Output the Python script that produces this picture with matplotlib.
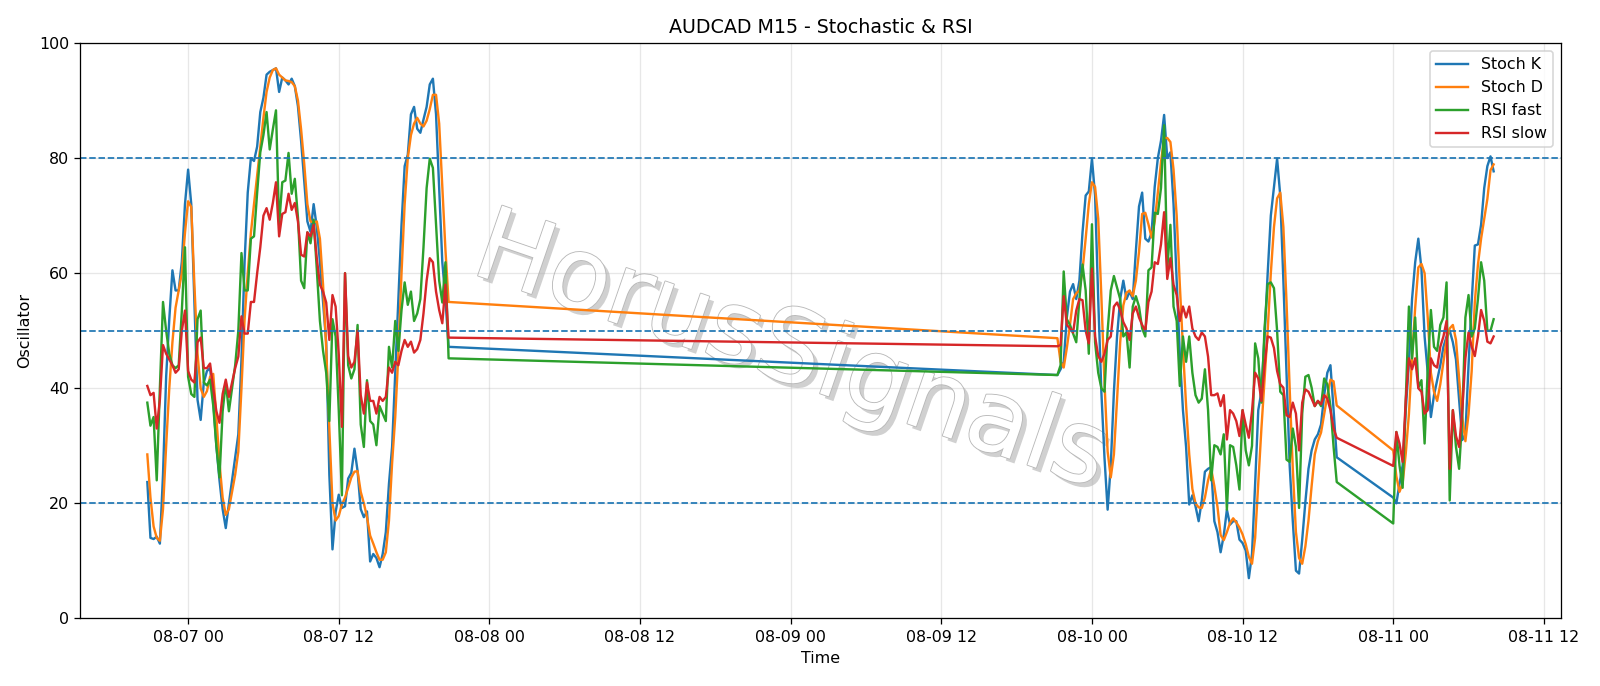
import matplotlib
matplotlib.use("Agg")
import matplotlib.pyplot as plt
import matplotlib.dates as mdates
import matplotlib.patheffects as pe
import numpy as np
import pandas as pd

# three trading stretches of M15 bars (Fri session, Sun-Mon session, after data hole)
seg_starts = ["2020-08-06 20:45", "2020-08-09 21:15", "2020-08-11 00:00"]
seg_lengths = [97, 90, 33]

stoch_k = [
    # segment 1
    23.7, 14, 13.8, 14.2, 13, 25, 42, 52, 60.5, 57, 57, 62, 72, 78, 72, 55, 38, 34.5, 41, 43,
    43.5, 38, 30, 24, 19, 15.7, 20, 24, 28, 32, 45, 62, 74, 80, 79.5, 82, 88, 90.5, 94.5, 95,
    95.3, 95.6, 91.5, 94, 93.5, 92.8, 93.8, 92.5, 89, 83, 76, 69, 67.2, 72, 68, 62, 55, 48, 25, 12,
    18.5, 21.5, 19.2, 19.5, 24.3, 25.3, 29.5, 25.6, 19, 17.6, 18.6, 9.9, 11.2, 10.5, 8.9, 11.2, 15, 23.4, 29.8, 42.7,
    55.5, 68.4, 78.6, 80.6, 87.6, 88.9, 85.1, 84.4, 86.7, 88.9, 92.8, 93.8, 87.6, 74.8, 61.9, 55.5, 47.2,
    # segment 2
    42.3, 43.3, 44.6, 52.3, 56.8, 58.1, 55.5, 58.7, 67.1, 73.5, 74.2, 79.9, 73.5, 55.5, 39.4, 27.9, 18.9, 26.6, 39.4, 49,
    55.5, 58.7, 55.5, 56.8, 55.5, 63.9, 71.6, 74, 66, 65.5, 67, 75, 80, 83, 87.5, 80, 81, 72, 58.7, 45.9,
    36.2, 29.8, 19.8, 21.4, 19.5, 16.9, 20.5, 25.5, 26, 26.3, 16.9, 15, 11.5, 14.4, 18.9, 16.3, 16.9, 16.9, 13.7, 13.1,
    11.8, 7, 11.2, 23.4, 36.2, 39.4, 49, 60, 70, 75, 79.9, 73.5, 58.7, 42.7, 26.6, 16.9, 8.3, 7.8, 13.7, 20.2,
    26, 29.2, 31.1, 32, 33.7, 38.8, 42.7, 44, 36.2, 28,
    # segment 3
    21, 20, 23.4, 26.6, 36.2, 44.6, 55.5, 61.9, 66, 60.7, 49, 42.7, 35, 38.8, 41.4, 44, 47.2, 49, 50, 48,
    45, 38, 31, 32, 44, 55, 64.8, 65, 68.4, 74.8, 78.6, 80.3, 77.7,
]

stoch_d = [
    28.5, 21, 16, 14, 13.5, 19, 30, 40, 48, 54, 57, 60, 67, 72.5, 71.5, 58, 46, 40, 38.5, 39.5,
    42, 42.5, 35, 27, 21, 18, 19, 22, 25, 29, 40, 52, 60, 67, 72, 77, 82, 87, 91.5, 94,
    95.3, 95.6, 94.5, 94, 93.5, 93.4, 93.2, 92.5, 90, 85, 79, 72, 69, 68.8, 69, 66, 58, 47, 33, 20,
    17, 17.8, 19.8, 21, 22.7, 24.5, 25.5, 25.6, 22, 20, 17.6, 14.4, 13, 11.5, 10.2, 10.2, 11.5, 17, 27, 35,
    46, 60, 72, 80, 84, 86, 87, 86, 85.5, 86.5, 88.5, 91, 91, 86, 75, 64, 55,
    48.7, 44.6, 43.6, 47, 51, 55.5, 56.5, 57, 60.5, 66, 72, 75.8, 75, 69.5, 56, 41, 29, 24.5, 28.5, 38,
    48, 54.4, 56.6, 57, 56, 58.7, 63.7, 70.3, 70.5, 68.5, 66.2, 69, 74, 79.3, 83.5, 83.5, 82.8, 78, 70, 58,
    47, 37, 28.5, 22.5, 20, 19.3, 19.2, 21, 24, 26, 23, 19.4, 14.5, 13.6, 15, 16.6, 17.4, 16.7, 15.8, 14.6,
    12.9, 10.7, 9.5, 14, 23.6, 33, 41.5, 50, 60, 68, 73, 74, 68, 55, 40, 26, 15, 10.5, 9.5, 12.5,
    17, 23, 28.5, 30.8, 32.3, 35.5, 38.7, 41.5, 41.2, 37,
    29.2, 24.7, 22, 23.5, 28.7, 35.5, 45.4, 54, 61, 61.6, 60, 52.3, 42.7, 39.4, 37.8, 40.7, 44.6, 48.4, 50.4, 51,
    48.4, 41.7, 35, 30.8, 35.5, 43, 55, 61.5, 66, 69.4, 72.9, 77.9, 78.9,
]

rsi_fast = [
    37.5, 33.5, 35, 24, 40, 55, 50, 46, 44, 43.5, 44, 53.5, 64.5, 42, 39, 38.5, 52, 53.5, 41, 40.5,
    41.5, 37, 30, 24.5, 36, 41, 36, 40, 44, 50, 63.5, 57, 57, 66, 66.4, 74, 81, 84, 88, 81.5,
    85, 88.3, 68.4, 75.8, 76.1, 80.9, 73.8, 76.4, 69.7, 58.7, 57.4, 67.1, 65.2, 69.3, 60.7, 51.7, 46.5, 42.7, 34.3, 52,
    49, 36.2, 21.4, 60, 44, 41.7, 43.3, 51, 33.7, 29.8, 41.4, 34.3, 33.7, 30.1, 36.9, 35.6, 34.3, 47.2, 43.6, 51.7,
    46.5, 53.6, 58.4, 54.5, 56.8, 51.7, 53, 55.5, 64.5, 74.8, 79.9, 78.3, 68.4, 58.7, 54.9, 61.9, 45.2,
    42.3, 44, 60.3, 52, 51, 49.5, 48, 55.5, 61.5, 57, 46, 68.5, 48, 42.7, 40, 39.4, 50, 57, 59.5, 57.5,
    55.5, 49, 49.7, 43.6, 54.2, 56, 54.2, 50.4, 49, 60.5, 61, 70.5, 70.3, 74.8, 85.7, 60.7, 68.4, 54.2, 51.7, 40.4,
    49, 44.6, 49, 42.7, 38.8, 37.5, 38.2, 43.3, 36.2, 24, 30.1, 29.8, 28.5, 32, 18.9, 30.1, 29.8, 26.6, 22.4, 36.2,
    29.2, 26.6, 30, 47.8, 45.2, 37.5, 50.4, 58.1, 58.4, 57.4, 50, 39.4, 38.8, 27.6, 27.2, 33, 29.8, 19.2, 35.6, 42,
    42.3, 40.1, 36.9, 37.8, 36.9, 41.7, 40.7, 36.9, 29.8, 23.7,
    16.5, 32.4, 26.6, 22.7, 38, 54.2, 45.2, 52.3, 40.1, 41.4, 30.4, 43.3, 53.6, 47.2, 46.5, 51, 52.3, 58.4, 20.5, 36.2,
    29.8, 26, 34.9, 52.3, 56.2, 49, 50.4, 55.5, 61.9, 58.7, 50, 50, 52,
]

rsi_slow = [
    40.4, 38.8, 39.2, 33, 38, 47.5, 46, 45, 44, 42.7, 43.3, 50, 53.5, 43, 41.5, 41, 48, 48.8, 43.5, 43.5,
    44.3, 40, 36, 34, 39, 41.5, 38.5, 41, 43.5, 45.5, 52.5, 49.5, 49.5, 55, 55, 60, 64.5, 70, 71.3, 69.3,
    72.2, 75.8, 66.4, 70.3, 70.6, 73.8, 71, 72.2, 69, 63.2, 62.9, 67.1, 66.4, 68.4, 62.6, 58, 56.8, 54.9, 48.4, 56.2,
    54.2, 45.9, 33.3, 60, 45.6, 43.6, 44.6, 50, 38.8, 35.6, 41, 37.8, 37.8, 35.6, 38.5, 37.8, 38.5, 43.6, 42.7, 44.6,
    44, 46.5, 48.4, 47.2, 48.1, 46.2, 46.8, 48.4, 53, 58.7, 62.6, 61.9, 56.8, 53.6, 51.3, 58, 48.8,
    47.3, 47.5, 56, 51, 50.4, 49.7, 53.5, 55.5, 55.3, 50, 47.8, 60.8, 49, 45.6, 44.6, 46, 48.4, 49, 54.2, 54.9,
    53.6, 51.5, 50.4, 48.4, 53, 54.2, 52.3, 51, 50, 55, 56.8, 61.9, 61.6, 65, 70.6, 59, 62.6, 58, 56.2, 51.7,
    54.2, 52.3, 54.2, 50.4, 49, 48.4, 49.7, 49, 45.5, 38.8, 38.8, 39.1, 36.9, 38.8, 31.1, 36.2, 35.6, 34.3, 31.7, 36.2,
    33.7, 31.4, 36, 42.7, 41.7, 37.8, 43.9, 49, 48.8, 47, 43, 40.7, 40.1, 35.3, 35, 37.5, 35.6, 29.2, 37.5, 39.8,
    39.4, 38.2, 36.9, 37.8, 37.2, 38.8, 38.2, 36.2, 33, 31.4,
    26.5, 32.4, 30.4, 27.2, 38, 45.2, 43.3, 45.2, 40, 39.4, 35.6, 36.2, 45.2, 44, 43.6, 47.2, 49, 51.7, 26, 36.2,
    31.7, 29.8, 36.2, 45.2, 49.7, 47.2, 45.6, 49, 53.6, 51.7, 48.1, 47.8, 49,
]

times = pd.DatetimeIndex(np.concatenate([
    pd.date_range(s, periods=n, freq="15min").values
    for s, n in zip(seg_starts, seg_lengths)
]))

fig, ax = plt.subplots(figsize=(14, 6.0025), dpi=1600 / 14)
fig.subplots_adjust(left=0.05, right=0.9756, bottom=0.0985, top=0.9373)

# faint diagonal watermark behind the lines
ax.text(0.48, 0.46, "HorusSignals", transform=ax.transAxes, fontsize=64,
        rotation=-19, ha="center", va="center", color="white", zorder=0,
        path_effects=[pe.SimplePatchShadow(offset=(3, -3), shadow_rgbFace="#d0d0d0", alpha=1.0),
                      pe.Stroke(linewidth=1.1, foreground="#b8b8b8"), pe.Normal()])

ax.plot(times, stoch_k, label="Stoch K")
ax.plot(times, stoch_d, label="Stoch D")
ax.plot(times, rsi_fast, label="RSI fast")
ax.plot(times, rsi_slow, label="RSI slow")
for lvl in (20, 50, 80):
    ax.axhline(lvl, color="C0", linestyle="--", linewidth=1.1)

ax.set_ylim(0, 100)
ax.xaxis.set_major_locator(mdates.HourLocator(byhour=[0, 12]))
ax.xaxis.set_major_formatter(mdates.DateFormatter("%m-%d %H"))
ax.grid(True, alpha=0.3)
ax.set_title("AUDCAD M15 - Stochastic & RSI")
ax.set_xlabel("Time")
ax.set_ylabel("Oscillator")
ax.legend(loc="upper right")

fig.savefig("out.png", dpi=1600 / 14)
